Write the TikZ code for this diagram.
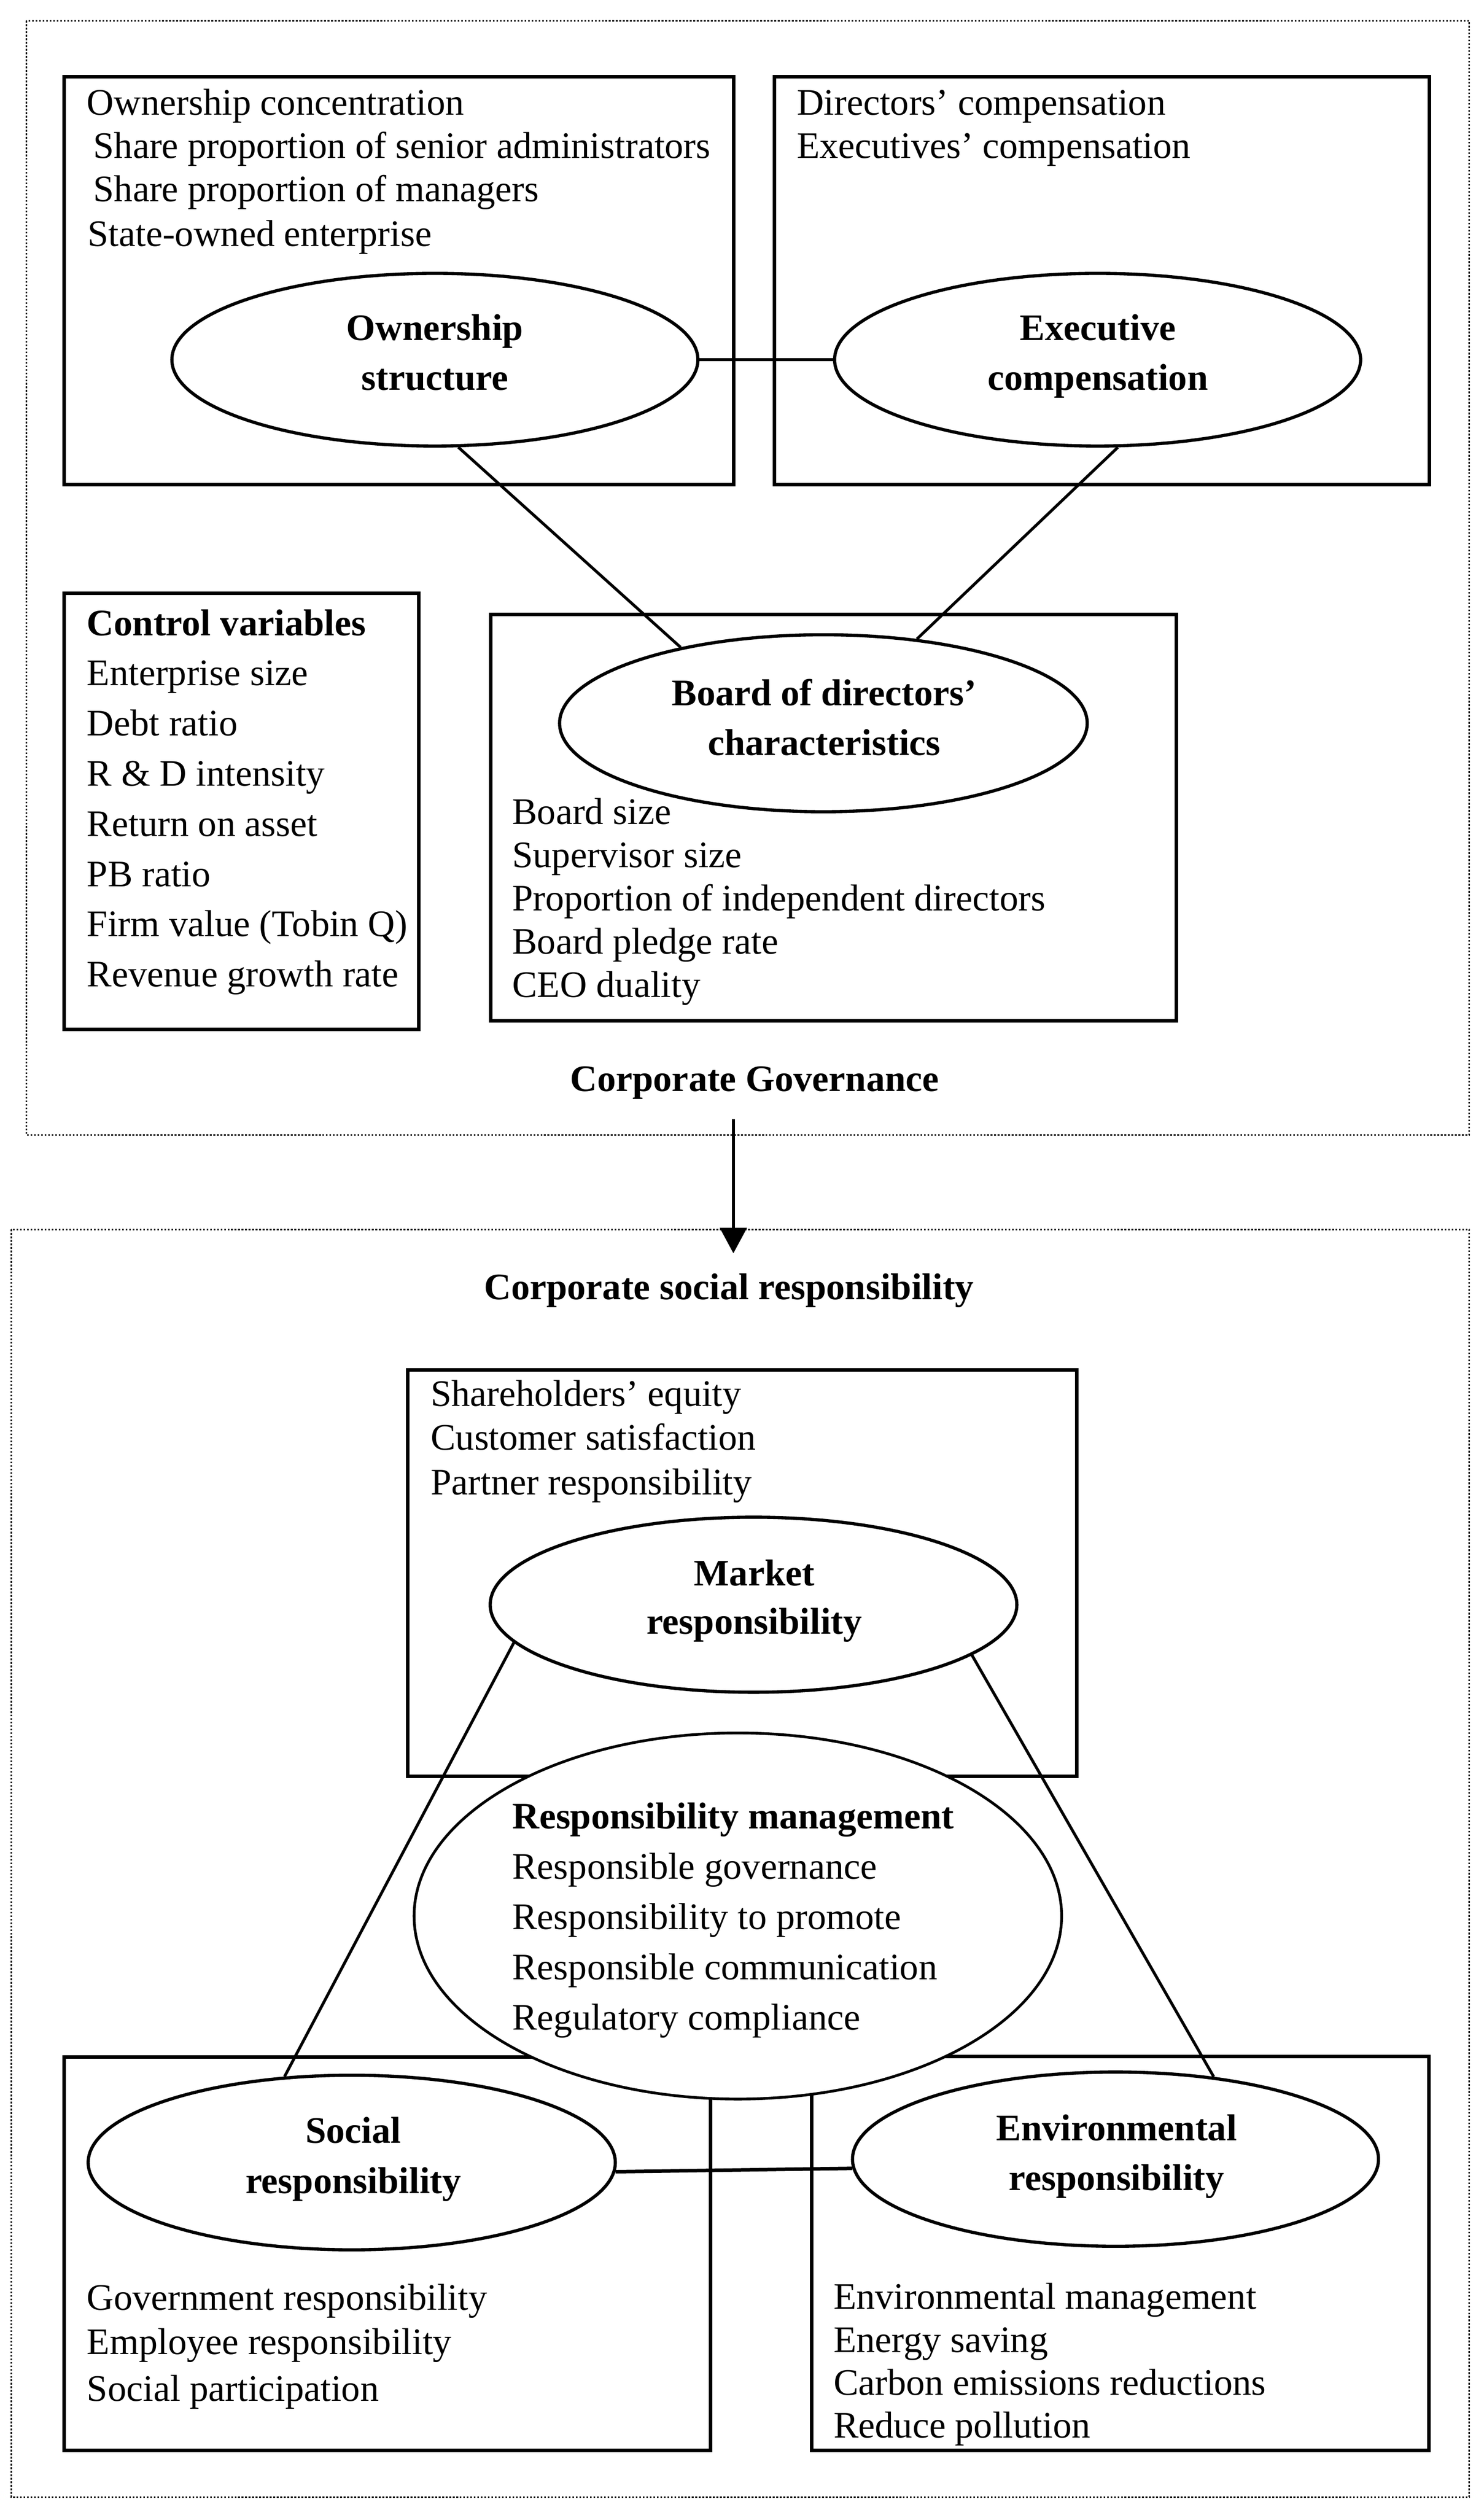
\documentclass[tikz,border=0pt]{standalone}
\usepackage{fontspec}
\setmainfont{Liberation Serif}
\usetikzlibrary{shapes.geometric,arrows.meta}
\newcommand{\fsz}{\fontsize{11.7}{14}\selectfont}
\begin{document}
\begin{tikzpicture}[x=0.5pt,y=-0.5pt,
  box/.style={draw,line width=1.1pt},
  dotbox/.style={draw,line width=0.45pt,dash pattern=on 0.55pt off 0.55pt},
  ell/.style={draw,ellipse,line width=1pt,fill=white,inner sep=0pt},
  conn/.style={line width=0.9pt},
  txt/.style={inner sep=0pt,anchor=base west,font=\fsz},
  btxt/.style={inner sep=0pt,anchor=base,font=\fsz\bfseries},
  bltxt/.style={inner sep=0pt,anchor=base west,font=\fsz\bfseries}]
\useasboundingbox (0,0) rectangle (928,1573.2);

% ---------- Corporate governance frame ----------
\draw[dotbox] (16.5,13) rectangle (919,710);
\draw[box] (40,48) rectangle (459,303);
\draw[box] (484.5,48) rectangle (894,303);
\draw[box] (40.2,371) rectangle (262,644);
\draw[box] (307,384.4) rectangle (735.7,638.6);

\node[ell,minimum width=164.5pt,minimum height=54pt] (own) at (272,225) {};
\node[ell,minimum width=164.5pt,minimum height=54pt] (exe) at (686.5,225) {};
\node[ell,minimum width=165pt,minimum height=55.35pt] (board) at (515,452.4) {};

\draw[conn] (own.east) -- (exe.west);
\draw[conn] (own.-75.5) -- (board.152);
\draw[conn] (exe.-77) -- (board.42.6);

\node[txt] (oc1) at (54,72) {Ownership concentration};
\node[txt] (oc2) at (58,99) {Share proportion of senior administrators};
\node[txt] (oc3) at (58,126) {Share proportion of managers};
\node[txt] (oc4) at (54.5,154) {State-owned enterprise};
\node[txt] (ec1) at (498,72) {Directors’ compensation};
\node[txt] (ec2) at (498,99) {Executives’ compensation};

\node[btxt] (ownA) at (272,213) {Ownership};
\node[btxt] (ownB) at (272,244) {structure};
\node[btxt] (exeA) at (686.7,213) {Executive};
\node[btxt] (exeB) at (686.7,244) {compensation};

\node[bltxt] (cvT) at (54,397.4) {Control variables};
\node[txt] (cv1) at (54,428.8) {Enterprise size};
\node[txt] (cv2) at (54,460.2) {Debt ratio};
\node[txt] (cv3) at (54,491.6) {R \& D intensity};
\node[txt] (cv4) at (54,523) {Return on asset};
\node[txt] (cv5) at (54,554.4) {PB ratio};
\node[txt] (cv6) at (54,585.8) {Firm value (Tobin Q)};
\node[txt] (cv7) at (54,617.2) {Revenue growth rate};

\node[btxt] (boardA) at (515.5,441.2) {Board of directors’};
\node[btxt] (boardB) at (515.5,472.5) {characteristics};
\node[txt] (bd1) at (320,515.6) {Board size};
\node[txt] (bd2) at (320,542.6) {Supervisor size};
\node[txt] (bd3) at (320,569.7) {Proportion of independent directors};
\node[txt] (bd4) at (320,596.7) {Board pledge rate};
\node[txt] (bd5) at (320,623.8) {CEO duality};

\node[btxt] (cg) at (472,682.5) {Corporate Governance};

% ---------- arrow ----------
\coordinate (arrS) at (458.7,700);
\coordinate (arrE) at (458.7,784);
\draw[line width=1pt,-{Triangle[width=8.3pt,length=8pt]}] (arrS) -- (arrE);

% ---------- CSR frame ----------
\draw[dotbox] (7,769) rectangle (919,1562);
\node[btxt] (csr) at (456,812.9) {Corporate social responsibility};

\draw[box] (255,857) rectangle (673.5,1111);
\draw[box] (40.2,1286.8) rectangle (444.5,1532.6);
\draw[box] (507.8,1286.5) rectangle (893.7,1532.6);

\node[ell,minimum width=164.7pt,minimum height=54.75pt] (mkt) at (471.3,1003.8) {};
\node[ell,line width=0.85pt,minimum width=202.5pt,minimum height=114.5pt] (rm) at (461.5,1198.5) {};
\node[ell,minimum width=164.85pt,minimum height=54.6pt] (soc) at (220,1352.7) {};
\node[ell,minimum width=164.5pt,minimum height=54.5pt] (env) at (697.7,1350.6) {};

\draw[conn] (mkt.189) -- (soc.128);
\draw[conn] (mkt.-13.65) -- (env.40.7);
\draw[line width=1.1pt] (soc.-2) -- (env.182.6);

\node[txt] (m1) at (269,879.7) {Shareholders’ equity};
\node[txt] (m2) at (269,907) {Customer satisfaction};
\node[txt] (m3) at (269,935) {Partner responsibility};
\node[btxt] (mktA) at (471.8,991.8) {Market};
\node[btxt] (mktB) at (471.8,1022) {responsibility};

\node[bltxt] (rmT) at (320,1144) {Responsibility management};
\node[txt] (rm1) at (320,1175.4) {Responsible governance};
\node[txt] (rm2) at (320,1206.9) {Responsibility to promote};
\node[txt] (rm3) at (320,1238.2) {Responsible communication};
\node[txt] (rm4) at (320,1269.6) {Regulatory compliance};

\node[btxt] (socA) at (221,1340.4) {Social};
\node[btxt] (socB) at (221,1372) {responsibility};
\node[btxt] (envA) at (698.4,1338.8) {Environmental};
\node[btxt] (envB) at (698.4,1370) {responsibility};

\node[txt] (s1) at (54,1445) {Government responsibility};
\node[txt] (s2) at (54,1472.8) {Employee responsibility};
\node[txt] (s3) at (54,1502) {Social participation};

\node[txt] (e1) at (521,1444.3) {Environmental management};
\node[txt] (e2) at (521,1471.4) {Energy saving};
\node[txt] (e3) at (521,1498) {Carbon emissions reductions};
\node[txt] (e4) at (521,1525) {Reduce pollution};
\end{tikzpicture}
\end{document}
